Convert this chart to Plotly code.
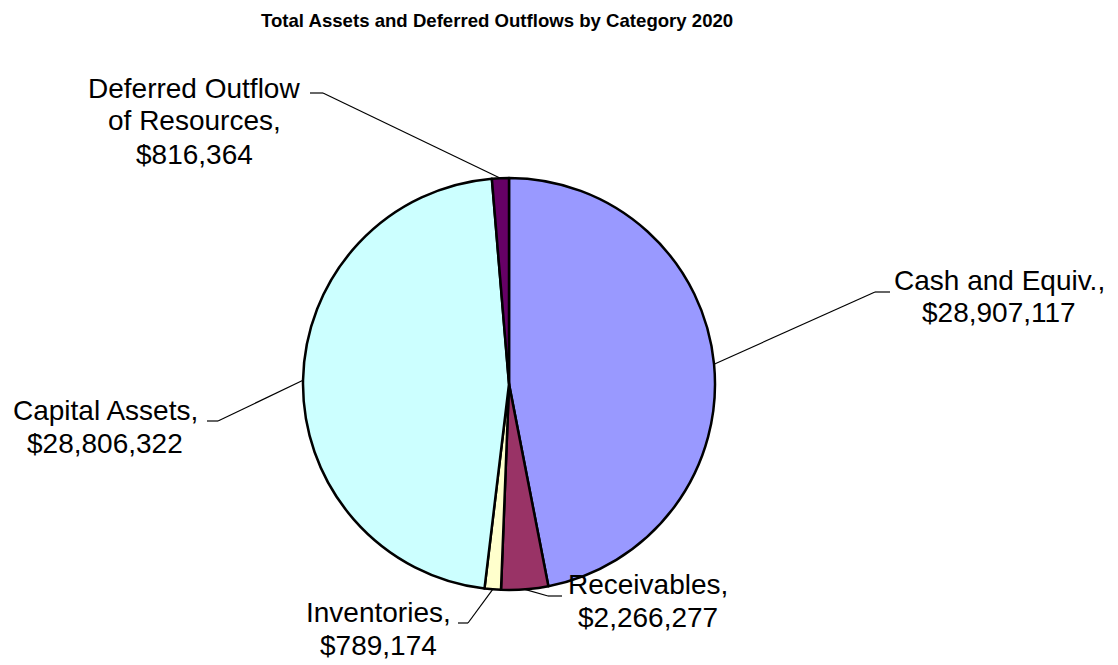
import math
import textwrap
import plotly.graph_objects as go

# Chart data
categories = ["Cash and Equiv.", "Receivables", "Inventories",
              "Capital Assets", "Deferred Outflow of Resources"]
values = [28907117, 2266277, 789174, 28806322, 816364]
colors = ["#9999FF", "#993366", "#FFFFCC", "#CCFFFF", "#660066"]
title_text = "Total Assets and Deferred Outflows by Category 2020"

# Canvas and pie geometry (pixels)
W, H = 1118, 665
CX, CY, R = 509, 384, 206

# Label placement: text centre x, first-line centre y, leader elbow, leader end
label_pos = [
    (999, 280, (875, 292), (890, 292)),
    (648, 584, (548, 596), (562, 596)),
    (378, 612, (468, 623), (458, 623)),
    (105, 410, (218, 421), (207, 421)),
    (194, 88, (323, 93), (310, 93)),
]
LINE_GAP = 33
LABEL_FONT = dict(family="Liberation Sans, Arial, sans-serif", size=28, color="black")


def px_x(x):
    return x / W


def px_y(y):
    return 1 - y / H


fig = go.Figure(go.Pie(
    labels=categories,
    values=values,
    sort=False,
    direction="clockwise",
    rotation=0,
    marker=dict(colors=colors, line=dict(color="black", width=2.5)),
    textinfo="none",
    hoverinfo="label+value",
    showlegend=False,
    domain=dict(x=[px_x(CX - R), px_x(CX + R)], y=[px_y(CY + R), px_y(CY - R)]),
))

annotations = [dict(
    text=f"<b>{title_text}</b>", x=px_x(497), y=px_y(20), xref="paper", yref="paper",
    xanchor="center", yanchor="middle", showarrow=False,
    font=dict(family="Liberation Sans, Arial, sans-serif", size=18.6, color="black"),
)]
shapes = []

total = sum(values)
cum = 0
for cat, val, (tx, ty, elbow, end) in zip(categories, values, label_pos):
    mid = 2 * math.pi * (cum + val / 2) / total
    cum += val
    ex = CX + R * math.sin(mid)
    ey = CY - R * math.cos(mid)

    lines = textwrap.wrap(cat + ",", 16) + [f"${val:,}"]
    for i, line in enumerate(lines):
        annotations.append(dict(
            text=line, x=px_x(tx), y=px_y(ty + i * LINE_GAP), xref="paper", yref="paper",
            xanchor="center", yanchor="middle", showarrow=False, font=LABEL_FONT,
        ))

    pts = [(ex, ey), elbow, end]
    for (x0, y0), (x1, y1) in zip(pts[:-1], pts[1:]):
        shapes.append(dict(
            type="line", xref="paper", yref="paper",
            x0=px_x(x0), y0=px_y(y0), x1=px_x(x1), y1=px_y(y1),
            line=dict(color="black", width=1.2),
        ))

fig.update_layout(
    width=W, height=H,
    margin=dict(l=0, r=0, t=0, b=0),
    paper_bgcolor="white", plot_bgcolor="white",
    annotations=annotations, shapes=shapes,
)

fig.write_html("out.html")
